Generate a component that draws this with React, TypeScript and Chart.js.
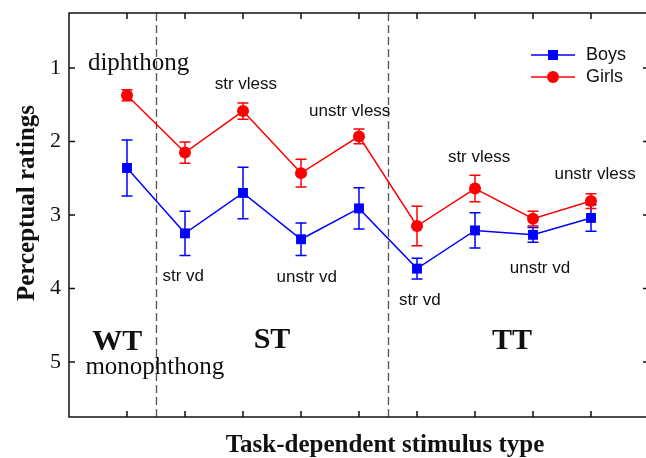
import React, { useEffect, useRef } from "react";
import { Chart, registerables } from "chart.js";

Chart.register(...registerables);

const categories = ["WT", "ST str vd", "ST str vless", "ST unstr vd", "ST unstr vless", "TT str vd", "TT str vless", "TT unstr vd", "TT unstr vless"];
const boys = [2.36, 3.25, 2.7, 3.33, 2.91, 3.73, 3.21, 3.27, 3.04];
const boysErr = [0.38, 0.3, 0.35, 0.22, 0.28, 0.14, 0.24, 0.1, 0.18];
const girls = [1.37, 2.15, 1.585, 2.43, 1.93, 3.15, 2.64, 3.05, 2.81];
const girlsErr = [0.075, 0.145, 0.11, 0.19, 0.1, 0.27, 0.18, 0.1, 0.1];
const yTicks = [1, 2, 3, 4, 5];
const xTicks = [1, 2, 3, 4, 5, 6, 7, 8, 9];
const dividers = [1.5, 5.5];

const smallLabels = [
  { text: "str vless", x: 3.05, y: 1.22 },
  { text: "unstr vless", x: 4.84, y: 1.59 },
  { text: "str vd", x: 1.97, y: 3.83 },
  { text: "unstr vd", x: 4.1, y: 3.85 },
  { text: "str vd", x: 6.05, y: 4.16 },
  { text: "str vless", x: 7.07, y: 2.22 },
  { text: "unstr vd", x: 8.12, y: 3.72 },
  { text: "unstr vless", x: 9.07, y: 2.44 },
];
const serifLabels = [
  { text: "diphthong", x: 1.2, y: 1.02 },
  { text: "monophthong", x: 1.48, y: 5.17 },
];
const groupLabels = [
  { text: "WT", x: 0.83, y: 4.84 },
  { text: "ST", x: 3.5, y: 4.81 },
  { text: "TT", x: 7.64, y: 4.83 },
];

const BLUE = "rgb(0,0,255)";
const RED = "rgb(255,0,0)";
const SERIF = "'Liberation Serif', 'Times New Roman', serif";
const SANS = "'Liberation Sans', Arial, sans-serif";

const decoPlugin = {
  id: "deco",
  beforeDatasetsDraw(chart: any) {
    const ctx = chart.ctx;
    const xs = chart.scales.x;
    const ys = chart.scales.y;
    const { top, bottom } = chart.chartArea;
    ctx.save();
    ctx.strokeStyle = "#555";
    ctx.lineWidth = 1.3;
    ctx.setLineDash([8, 4]);
    dividers.forEach((d) => {
      const px = Math.round(xs.getPixelForValue(d)) + 0.5;
      ctx.beginPath();
      ctx.moveTo(px, top);
      ctx.lineTo(px, bottom);
      ctx.stroke();
    });
    ctx.setLineDash([]);
    const errs = [boysErr, girlsErr];
    chart.data.datasets.forEach((ds: any, i: number) => {
      ctx.strokeStyle = ds.borderColor;
      ctx.lineWidth = 1.5;
      ds.data.forEach((p: any, j: number) => {
        const px = xs.getPixelForValue(p.x);
        const y1 = ys.getPixelForValue(p.y - errs[i][j]);
        const y2 = ys.getPixelForValue(p.y + errs[i][j]);
        ctx.beginPath();
        ctx.moveTo(px, y1);
        ctx.lineTo(px, y2);
        ctx.moveTo(px - 5.5, y1);
        ctx.lineTo(px + 5.5, y1);
        ctx.moveTo(px - 5.5, y2);
        ctx.lineTo(px + 5.5, y2);
        ctx.stroke();
      });
    });
    ctx.restore();
  },
  afterDraw(chart: any) {
    const ctx = chart.ctx;
    const xs = chart.scales.x;
    const ys = chart.scales.y;
    const { left, right, top, bottom } = chart.chartArea;
    ctx.save();
    ctx.strokeStyle = "#111";
    ctx.lineWidth = 1.5;
    ctx.strokeRect(left, top, right - left, bottom - top);
    ctx.beginPath();
    xTicks.forEach((v) => {
      const px = xs.getPixelForValue(v);
      ctx.moveTo(px, top);
      ctx.lineTo(px, top + 6);
      ctx.moveTo(px, bottom);
      ctx.lineTo(px, bottom - 6);
    });
    yTicks.forEach((v) => {
      const py = ys.getPixelForValue(v);
      ctx.moveTo(left, py);
      ctx.lineTo(left + 6, py);
      ctx.moveTo(right, py);
      ctx.lineTo(right - 6, py);
    });
    ctx.stroke();

    ctx.fillStyle = "#111";
    ctx.textAlign = "center";
    ctx.textBaseline = "middle";
    ctx.font = `17px ${SANS}`;
    smallLabels.forEach((l) => {
      ctx.fillText(l.text, xs.getPixelForValue(l.x), ys.getPixelForValue(l.y));
    });
    ctx.textBaseline = "alphabetic";
    ctx.font = `25px ${SERIF}`;
    serifLabels.forEach((l) => {
      ctx.fillText(l.text, xs.getPixelForValue(l.x), ys.getPixelForValue(l.y));
    });
    ctx.font = `bold 30px ${SERIF}`;
    groupLabels.forEach((l) => {
      ctx.fillText(l.text, xs.getPixelForValue(l.x), ys.getPixelForValue(l.y));
    });

    ctx.font = `bold 25px ${SERIF}`;
    ctx.fillText("Task-dependent stimulus type", 385, 452);
    ctx.save();
    ctx.translate(34, 203);
    ctx.rotate(-Math.PI / 2);
    ctx.fillText("Perceptual ratings", 0, 0);
    ctx.restore();

    const items = [
      { label: "Boys", color: BLUE, style: "rect", y: 55 },
      { label: "Girls", color: RED, style: "circle", y: 77 },
    ];
    items.forEach((it) => {
      ctx.strokeStyle = it.color;
      ctx.fillStyle = it.color;
      ctx.lineWidth = 1.5;
      ctx.beginPath();
      ctx.moveTo(531, it.y);
      ctx.lineTo(575, it.y);
      ctx.stroke();
      if (it.style === "rect") {
        ctx.fillRect(548, it.y - 5, 10, 10);
      } else {
        ctx.beginPath();
        ctx.arc(553, it.y, 6, 0, Math.PI * 2);
        ctx.fill();
      }
      ctx.fillStyle = "#111";
      ctx.textAlign = "left";
      ctx.textBaseline = "middle";
      ctx.font = `18px ${SANS}`;
      ctx.fillText(it.label, 586, it.y);
    });
    ctx.restore();
  },
};

export default function App() {
  const ref = useRef<HTMLCanvasElement | null>(null);
  useEffect(() => {
    if (!ref.current) return;
    const chart = new Chart(ref.current, {
      type: "line",
      data: {
        labels: categories,
        datasets: [
          {
            label: "Boys",
            data: boys.map((v, i) => ({ x: xTicks[i], y: v })),
            borderColor: BLUE,
            backgroundColor: BLUE,
            borderWidth: 1.5,
            pointStyle: "rect",
            pointRadius: 7,
            pointBorderWidth: 0,
          },
          {
            label: "Girls",
            data: girls.map((v, i) => ({ x: xTicks[i], y: v })),
            borderColor: RED,
            backgroundColor: RED,
            borderWidth: 1.5,
            pointStyle: "circle",
            pointRadius: 6,
            pointBorderWidth: 0,
          },
        ],
      },
      options: {
        animation: false,
        responsive: false,
        devicePixelRatio: 1,
        layout: { padding: { top: 13, bottom: 41, right: 11, left: 0 } },
        plugins: { legend: { display: false }, tooltip: { enabled: false } },
        scales: {
          x: { type: "linear", min: 0, max: 10, display: false },
          y: {
            type: "linear",
            reverse: true,
            min: 0.25,
            max: 5.75,
            afterBuildTicks: (s: any) => {
              s.ticks = yTicks.map((v) => ({ value: v }));
            },
            afterFit: (s: any) => {
              s.width = 69;
              s.paddingTop = 0;
              s.paddingBottom = 0;
            },
            grid: { display: false, drawTicks: false },
            border: { display: false },
            ticks: {
              font: { family: SERIF, size: 22 },
              color: "#111",
              padding: 8,
              callback: (v: any) => String(v),
            },
          },
        },
      },
      plugins: [decoPlugin],
    });
    return () => chart.destroy();
  }, []);
  return (
    <div style={{ position: "fixed", left: 0, top: 0, width: 646, height: 458, overflow: "hidden", background: "#fff" }}>
      <canvas ref={ref} width={660} height={458} style={{ width: 660, height: 458, display: "block" }} />
    </div>
  );
}
